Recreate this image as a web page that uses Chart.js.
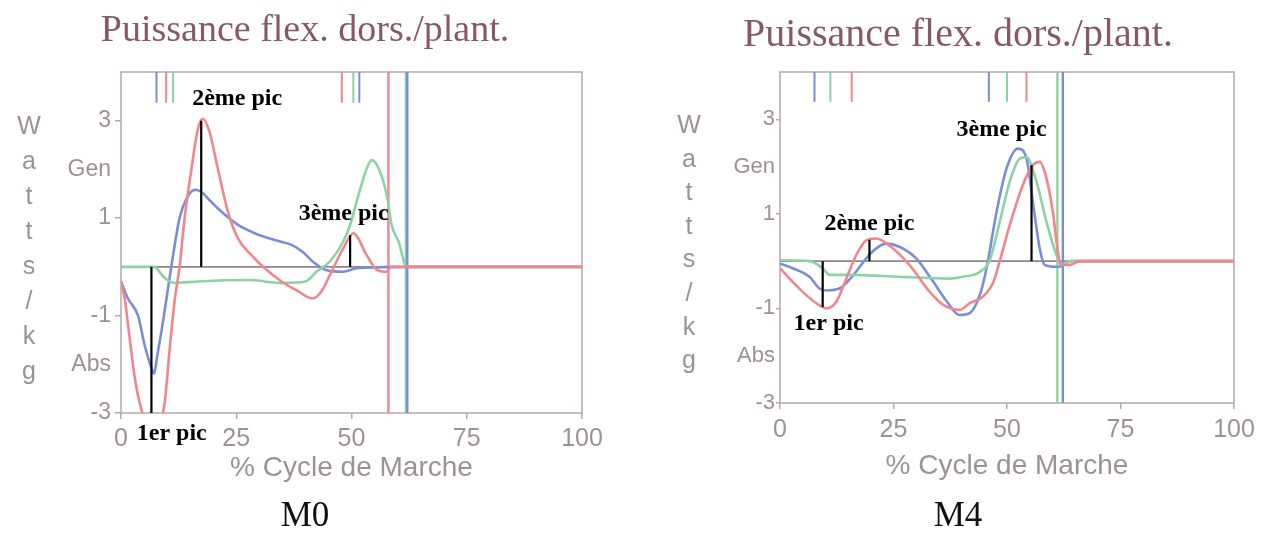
<!DOCTYPE html>
<html><head><meta charset="utf-8">
<script src="https://cdn.jsdelivr.net/npm/chart.js@4.4.1/dist/chart.umd.min.js"></script>
<style>
html,body{margin:0;padding:0;background:#fff;width:1271px;height:553px;overflow:hidden;position:relative;}
canvas{position:absolute;top:0;}
#c0{left:0px;} #c1{left:650px;}
.ylab{position:absolute;font-family:'Liberation Sans',Arial,sans-serif;color:#9c9196;text-align:center;width:34px;font-size:25px;}
</style></head><body>
<canvas id="c0" width="620" height="553"></canvas>
<canvas id="c1" width="621" height="553"></canvas>
<script>
// ---- text / ticks ----
const chartTitle = 'Puissance flex. dors./plant.';
const xTitle = '% Cycle de Marche';
const yTitleLetters = ['W','a','t','t','s','/','k','g'];
const panelNames = ['M0', 'M4'];
const peakNames = ['1er pic', '2ème pic', '3ème pic'];
const xTickValues = [0, 25, 50, 75, 100];
const xTickText = ['0', '25', '50', '75', '100'];
const yTickValues = [-3, -2, -1, 0, 1, 2, 3, 4];
const yTickText = ['-3', 'Abs', '-1', '', '1', 'Gen', '3', ''];

// ---- M0 series ----
const m0RedX = [0, 0.8, 1.8, 2.9, 4.0, 5.5, 7.0, 8.5, 9.5, 10.5, 11.6, 12.7, 13.8, 15.3, 16.7, 17.8, 19.2, 21.0, 23.2, 25.4, 28.3, 31.2, 34.8, 38.4, 41.5, 43.5, 45.3, 48.2, 50.4, 53.3, 55.5, 57.6, 58.5, 62, 100];
const m0RedY = [-0.3, -0.65, -1.4, -2.22, -2.77, -3.2, -3.35, -3.2, -2.77, -1.75, -0.72, 0.0, 1.0, 2.02, 2.84, 3.04, 2.77, 2.02, 1.13, 0.58, 0.24, -0.03, -0.3, -0.5, -0.65, -0.5, -0.17, 0.38, 0.69, 0.24, -0.06, -0.1, 0, 0, 0];
const m0BlueX = [0, 1.5, 3.7, 5.1, 6.6, 7.1, 8.0, 9.1, 10.2, 11.3, 12.7, 14.2, 16.0, 16.8, 17.8, 19.2, 21.8, 25.4, 29.0, 33.4, 37.0, 39.5, 41.7, 44.6, 48.2, 51.1, 62, 100];
const m0BlueY = [-0.3, -0.65, -1.0, -1.6, -2.08, -2.19, -1.75, -1.13, -0.44, 0.24, 1.0, 1.4, 1.58, 1.57, 1.51, 1.37, 1.13, 0.86, 0.69, 0.55, 0.45, 0.3, 0.1, -0.07, -0.1, -0.03, 0, 0];
const m0GreenX = [0, 7.3, 8.5, 9.5, 11.6, 16.7, 27.6, 34.8, 40, 42.4, 45.3, 48.2, 49.7, 51.5, 53.3, 54.4, 56.2, 57.8, 58.7, 60.2, 62, 100];
const m0GreenY = [0, 0, -0.12, -0.23, -0.33, -0.3, -0.27, -0.33, -0.3, -0.1, 0.11, 0.52, 0.86, 1.47, 2.02, 2.19, 1.95, 1.4, 0.86, 0.52, 0, 0];
const m0EventRed = [9.8, 47.9];
const m0EventBlue = [7.7, 51.7];
const m0EventGreen = [11.3, 50.4];
const m0ToeOffRed = [58.0];
const m0ToeOffBlue = [62.1];
const m0ToeOffGreen = [61.8];
const m0PeakX = [6.6, 17.4, 49.7];
const m0PeakY = [-3, 3.0, 0.65];
const m0PeakLabelX = [11, 25.2, 48.3];
const m0PeakLabelY = [-3.42, 3.46, 1.08];

// ---- M4 series ----
const m4RedX = [0, 2.1, 5.0, 8.0, 10.2, 12.4, 14.6, 16.8, 19.0, 21.2, 24.1, 28.5, 33.0, 35.9, 39.6, 41.8, 44.7, 47.0, 48.4, 50.6, 53.5, 55.7, 57.2, 58.7, 60.1, 61.2, 61.9, 63.8, 66, 100];
const m4RedY = [-0.15, -0.37, -0.65, -0.89, -1.0, -0.86, -0.37, 0.13, 0.44, 0.48, 0.33, -0.08, -0.65, -0.92, -1.03, -0.89, -0.75, -0.44, 0.0, 0.76, 1.61, 2.03, 2.1, 1.75, 1.04, 0.2, -0.08, -0.08, 0, 0];
const m4BlueX = [0, 2.8, 6.5, 8.7, 10.2, 13.1, 16.1, 19.0, 21.2, 23.4, 26.4, 30.0, 33.5, 36.8, 39.6, 41.8, 44.0, 45.5, 47.7, 49.9, 52.4, 54.3, 55.7, 57.2, 58.3, 60.8, 62.3, 64, 100];
const m4BlueY = [-0.05, -0.15, -0.33, -0.58, -0.62, -0.58, -0.3, 0.06, 0.27, 0.37, 0.3, 0.06, -0.4, -0.86, -1.14, -1.1, -0.72, -0.15, 1.04, 1.96, 2.38, 2.17, 1.25, 0.27, -0.08, -0.12, -0.1, 0, 0];
const m4GreenX = [0, 6.5, 9.4, 10.9, 15.3, 26.4, 37.4, 40.3, 44.0, 46.2, 48.4, 50.6, 52.8, 54.3, 56.5, 58.7, 60.9, 62.0, 64, 100];
const m4GreenY = [0.02, 0, -0.15, -0.29, -0.29, -0.33, -0.37, -0.33, -0.23, 0.02, 0.83, 1.68, 2.17, 2.2, 1.68, 0.83, 0.13, -0.08, 0, 0];
const m4EventRed = [15.8, 54.3];
const m4EventBlue = [7.6, 46.0];
const m4EventGreen = [11.1, 50.0];
const m4ToeOffRed = [];
const m4ToeOffBlue = [62.3];
const m4ToeOffGreen = [61.1];
const m4PeakX = [9.4, 19.7, 55.4];
const m4PeakY = [-0.97, 0.45, 2.03];
const m4PeakLabelX = [10.7, 19.7, 48.8];
const m4PeakLabelY = [-1.32, 0.8, 2.78];

// marker extents (y values)
const eventMarkRange = [3.37, 4];
const toeOffRange = [-3, 4];

// ---- styles ----
const RED = 'rgb(240,134,140)';
const BLUE = 'rgb(122,142,216)';
const GREEN = 'rgb(140,210,165)';
const GRAY = '#9c9196';
const FRAME = '#b6a6ae';
const TITLE_COLOR = 'rgb(135,88,104)';

function pts(xs, ys) { return xs.map((x, i) => ({x: x, y: ys[i]})); }
function seg(x, y0, y1) { return [{x: x, y: y0}, {x: x, y: y1}]; }

const framePlugin = {
  id: 'frame',
  beforeDatasetsDraw(chart) {
    const a = chart.chartArea, ctx = chart.ctx;
    ctx.save();
    ctx.strokeStyle = FRAME; ctx.lineWidth = 1.5;
    ctx.strokeRect(a.left, a.top, a.right - a.left, a.bottom - a.top);
    ctx.restore();
  }
};
const peakTextPlugin = {
  id: 'peakText',
  afterDatasetsDraw(chart, args, opts) {
    const ctx = chart.ctx, xs = chart.scales.x, ys = chart.scales.y;
    ctx.save();
    ctx.font = opts.font; ctx.fillStyle = '#000';
    ctx.textAlign = 'center'; ctx.textBaseline = 'middle';
    opts.labels.forEach((t, i) => ctx.fillText(t, xs.getPixelForValue(opts.xs[i]), ys.getPixelForValue(opts.ys[i])));
    ctx.restore();
  }
};

function build(id, p) {
  const ds = [];
  p.peakX.forEach((px, i) => ds.push({data: seg(px, 0, p.peakY[i]), borderColor: '#000', borderWidth: 2.2}));
  ds.push({data: pts(p.redX, p.redY), borderColor: RED, borderWidth: 2.6, cubicInterpolationMode: 'monotone'});
  ds.push({data: pts(p.greenX, p.greenY), borderColor: GREEN, borderWidth: 2.6, cubicInterpolationMode: 'monotone'});
  ds.push({data: pts(p.blueX, p.blueY), borderColor: BLUE, borderWidth: 2.6, cubicInterpolationMode: 'monotone'});
  [[p.toeBlue, BLUE], [p.toeGreen, GREEN], [p.toeRed, RED]].forEach(([arr, c]) =>
    arr.forEach(v => ds.push({data: seg(v, toeOffRange[0], toeOffRange[1]), borderColor: c, borderWidth: 2.4})));
  [[p.evBlue, BLUE], [p.evGreen, GREEN], [p.evRed, RED]].forEach(([arr, c]) =>
    arr.forEach(v => ds.push({data: seg(v, eventMarkRange[0], eventMarkRange[1]), borderColor: c, borderWidth: 2})));
  ds.push({data: [{x: 0, y: 0}, {x: 100, y: 0}], borderColor: '#8f858a', borderWidth: 1.6});
  ds.forEach(d => { d.pointRadius = 0; d.fill = false; });

  return new Chart(document.getElementById(id), {
    type: 'line',
    data: {datasets: ds},
    plugins: [framePlugin, peakTextPlugin],
    options: {
      responsive: false, animation: false, devicePixelRatio: 1,
      parsing: false,
      layout: {padding: {left: p.padL, right: p.padR, top: 0, bottom: 15}},
      plugins: {
        legend: {display: false}, tooltip: {enabled: false},
        title: {display: true, text: chartTitle, color: TITLE_COLOR,
          font: {family: "'Liberation Serif', 'Times New Roman', serif", size: p.titleSize, weight: 'normal', lineHeight: 1.2},
          padding: {top: p.titlePadT, bottom: p.titlePadB}},
        subtitle: {display: true, position: 'bottom', text: p.name, color: '#111',
          font: {family: "'Liberation Serif', 'Times New Roman', serif", size: 35, weight: 'normal', lineHeight: 1.2},
          padding: 0},
        peakText: {labels: peakNames, xs: p.labX, ys: p.labY, font: "bold 24px 'Liberation Serif', 'Times New Roman', serif"}
      },
      scales: {
        x: {
          type: 'linear', min: 0, max: 100,
          afterBuildTicks: s => { s.ticks = xTickValues.map(v => ({value: v})); },
          afterFit: s => { s.height = p.xAxisH; },
          ticks: {color: GRAY, font: {family: "'Liberation Sans', Arial, sans-serif", size: p.xTickSize}, padding: p.xTickPad,
            maxRotation: 0, autoSkip: false, callback: v => xTickText[xTickValues.indexOf(v)]},
          grid: {drawOnChartArea: false, drawTicks: true, tickLength: 6, color: FRAME, lineWidth: 1.5},
          border: {display: false},
          title: {display: true, text: xTitle, color: GRAY,
            font: {family: "'Liberation Sans', Arial, sans-serif", size: 28, lineHeight: 1.2},
            padding: {top: 0, bottom: p.xTitlePadB}}
        },
        y: {
          type: 'linear', min: -3, max: 4,
          afterBuildTicks: s => { s.ticks = yTickValues.map(v => ({value: v})); },
          afterFit: s => { s.width = p.yAxisW; },
          ticks: {color: GRAY, font: {family: "'Liberation Sans', Arial, sans-serif", size: p.yTickSize}, padding: p.yTickPad,
            autoSkip: false, callback: v => yTickText[yTickValues.indexOf(v)]},
          grid: {drawOnChartArea: false, drawTicks: true, tickLength: p.yTl, lineWidth: 1.5,
            color: c => (c.tick && Math.abs(c.tick.value) % 2 === 1) ? FRAME : 'rgba(0,0,0,0)'},
          border: {display: false}
        }
      }
    }
  });
}

build('c0', {
  name: panelNames[0],
  redX: m0RedX, redY: m0RedY, blueX: m0BlueX, blueY: m0BlueY, greenX: m0GreenX, greenY: m0GreenY,
  evRed: m0EventRed, evBlue: m0EventBlue, evGreen: m0EventGreen,
  toeRed: m0ToeOffRed, toeBlue: m0ToeOffBlue, toeGreen: m0ToeOffGreen,
  peakX: m0PeakX, peakY: m0PeakY, labX: m0PeakLabelX, labY: m0PeakLabelY,
  padL: 28, padR: 38, titleSize: 38, titlePadT: 8, titlePadB: 18.4,
  xAxisH: 83, xTickSize: 25, xTickPad: 5, xTitlePadB: 11.2,
  yAxisW: 93, yTickSize: 23, yTickPad: 4, yTl: 6
});
build('c1', {
  name: panelNames[1],
  redX: m4RedX, redY: m4RedY, blueX: m4BlueX, blueY: m4BlueY, greenX: m4GreenX, greenY: m4GreenY,
  evRed: m4EventRed, evBlue: m4EventBlue, evGreen: m4EventGreen,
  toeRed: m4ToeOffRed, toeBlue: m4ToeOffBlue, toeGreen: m4ToeOffGreen,
  peakX: m4PeakX, peakY: m4PeakY, labX: m4PeakLabelX, labY: m4PeakLabelY,
  padL: 32, padR: 37, titleSize: 40, titlePadT: 11, titlePadB: 13,
  xAxisH: 93, xTickSize: 25, xTickPad: 6, xTitlePadB: 13.2,
  yAxisW: 98, yTickSize: 22, yTickPad: 1, yTl: 4
});

// vertical stacked y-axis title letters
[[12, 107.5, 35], [672, 108, 33.6]].forEach(([left, top, step]) => {
  const d = document.createElement('div');
  d.className = 'ylab';
  d.style.left = left + 'px'; d.style.top = top + 'px';
  d.style.lineHeight = step + 'px';
  d.innerHTML = yTitleLetters.join('<br>');
  document.body.appendChild(d);
});
</script>
</body></html>
